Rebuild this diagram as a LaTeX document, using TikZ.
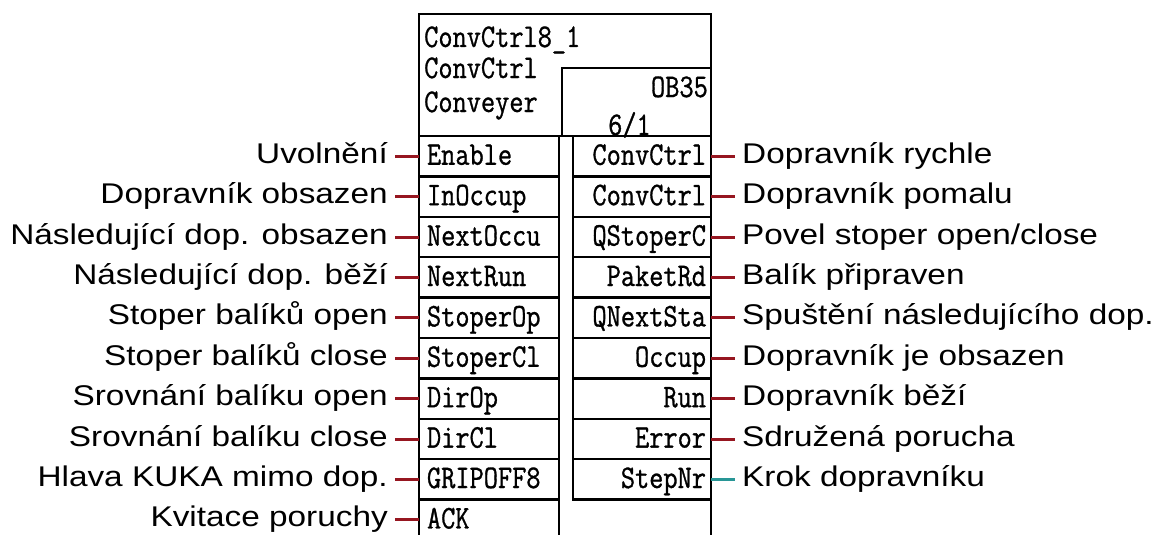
\documentclass[tikz,border=0pt]{standalone}
\usepackage{fontspec}
\setmainfont{Liberation Sans}
\newfontfamily\lblfont[FakeStretch=1.17]{Liberation Sans}
\newfontfamily\pinface[FakeStretch=0.835,FakeBold=0.9]{Latin Modern Mono}
\newcommand\pinfnt{\pinface\fontsize{33}{36}\selectfont}
\definecolor{wirered}{RGB}{150,22,32}
\definecolor{wireteal}{RGB}{40,150,150}
\tikzset{
  frame/.style={draw=black, line width=2.4pt, outer sep=0pt, inner sep=0pt},
  pinbase/.style={frame, font=\pinfnt,
    minimum height=40.4pt, inner ysep=0pt, text height=22pt, text depth=4.8pt},
  pinL/.style={pinbase, text width=124pt, inner xsep=8pt, align=left, anchor=west},
  pinR/.style={pinbase, text width=128pt, inner xsep=5pt, align=right, anchor=west},
  hdrtext/.style={font=\pinfnt, inner sep=0pt},
  lbl/.style={font=\lblfont\fontsize{28.5}{31}\selectfont, inner sep=0pt},
  wire/.style={draw=wirered, line width=3pt},
  wireb/.style={draw=wireteal, line width=3pt}
}
\begin{document}
\begin{tikzpicture}[x=1pt,y=-1pt]
\useasboundingbox (0,0) rectangle (1159,535);
\clip (0,0) rectangle (1159,535);
% header block
\node[frame, minimum width=292pt, minimum height=122pt, anchor=north west] (hdr) at (419,14) {};
\node[frame, minimum width=149pt, minimum height=68pt, anchor=north west] (ob) at (562,68) {};
\draw[frame] (hdr.south west) -- ++(0,420);
\draw[frame] (hdr.south east) -- ++(0,420);
\node[hdrtext, anchor=base west] (t1) at (424,47) {ConvCtrl8\_1};
\node[hdrtext, anchor=base west] (t2) at (424,78) {ConvCtrl};
\node[hdrtext, anchor=base west] (t3) at (424,112) {Conveyer};
\node[hdrtext, anchor=base east] (t4) at (708,97) {OB35};
\node[hdrtext, anchor=base west] (t5) at (608,135) {6/1};
% left column
\foreach \i/\p/\l in {0/Enable/{Uvolnění}, 1/InOccup/{Dopravník obsazen},
  2/NextOccu/{Následující dop. obsazen}, 3/NextRun/{Následující dop. běží},
  4/StoperOp/{Stoper balíků open}, 5/StoperCl/{Stoper balíků close},
  6/DirOp/{Srovnání balíku open}, 7/DirCl/{Srovnání balíku close},
  8/GRIPOFF8/{Hlava KUKA mimo dop.}, 9/ACK/{Kvitace poruchy}}{
  \pgfmathsetmacro{\yc}{156.2+40.4*\i}
  \node[pinL, minimum width=140pt] (pl\i) at (419,\yc) {\p};
  \node[lbl, anchor=base east] (ll\i) at (388,\yc+7) {\l};
  \draw[wire, shorten <=7pt] (ll\i.east |- pl\i.west) -- (pl\i.west);
}
\draw[frame] (pl9.north east) -- ++(0,60);
% right column
\foreach \i/\p/\l in {0/ConvCtrl/{Dopravník rychle}, 1/ConvCtrl/{Dopravník pomalu},
  2/QStoperC/{Povel stoper open/close}, 3/PaketRd/{Balík připraven},
  4/QNextSta/{Spuštění následujícího dop.}, 5/Occup/{Dopravník je obsazen},
  6/Run/{Dopravník běží}, 7/Error/{Sdružená porucha}}{
  \pgfmathsetmacro{\yc}{156.2+40.4*\i}
  \node[pinR, minimum width=138pt] (pr\i) at (573,\yc) {\p};
  \node[lbl, anchor=base west] (lr\i) at (742,\yc+7) {\l};
  \draw[wire, shorten >=7pt] (pr\i.east) -- (lr\i.west |- pr\i.east);
}
\node[pinR, minimum width=138pt] (pr8) at (573,479.4) {StepNr};
\node[lbl, anchor=base west] (lr8) at (742,486.4) {Krok dopravníku};
\draw[wireb, shorten >=7pt] (pr8.east) -- (lr8.west |- pr8.east);
\end{tikzpicture}
\end{document}
